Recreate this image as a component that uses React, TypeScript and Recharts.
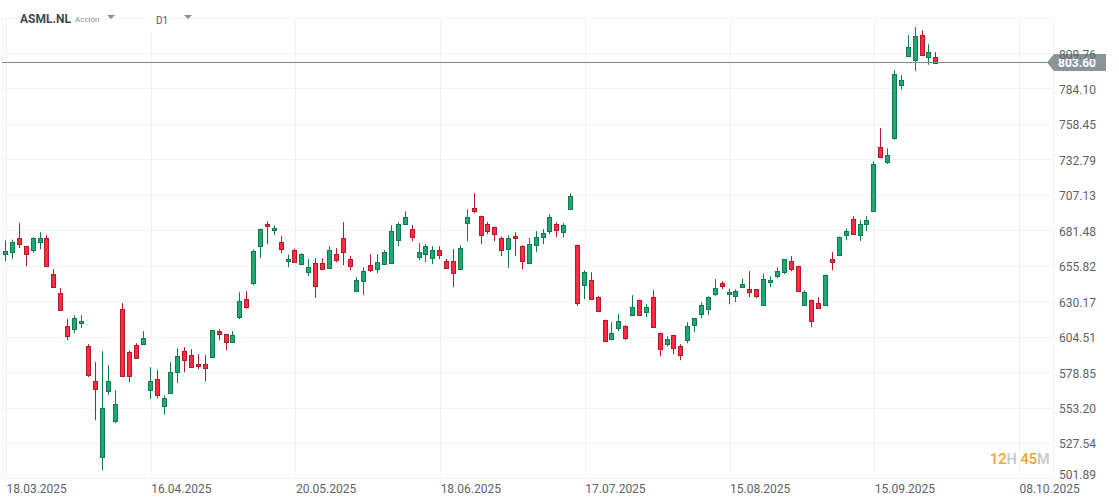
import { Bar, CartesianGrid, ComposedChart, ReferenceLine, XAxis, YAxis } from 'recharts';

const FONT = 'Roboto, sans-serif';
const UP_FILL = '#1fa971';
const UP_EDGE = '#0f7a4f';
const DOWN_FILL = '#ff2b3e';
const DOWN_EDGE = '#b5182f';
const GRID = '#f2f3f4';
const LAST_PRICE = 803.6;
const BOTTOM_PRICE = 501.89;

const dateLabels = ['18.03.2025', '16.04.2025', '20.05.2025', '18.06.2025', '17.07.2025', '15.08.2025', '15.09.2025', '08.10.2025'];
const dateTicks = [0, 21, 42, 63, 84, 105, 126, 147];
const priceTicks = [809.76, 784.1, 758.45, 732.79, 707.13, 681.48, 655.82, 630.17, 604.51, 578.85, 553.2, 527.54, BOTTOM_PRICE];

const opens = [
  664.0, 666.2, 676.6, 670.1, 666.9, 672.7, 676.6, 650.5, 636.1, 612.2,
  610.5, 614.8, 598.4, 572.4, 517.8, 565.6, 543.9, 625.2, 593.4, 599.1,
  599.6, 566.3, 574.5, 554.0, 564.4, 578.6, 594.1, 591.9, 585.4, 584.7,
  589.5, 608.6, 606.4, 600.4, 618.4, 632.4, 643.1, 670.8, 686.7, 682.1,
  673.0, 659.0, 667.9, 656.8, 651.7, 657.8, 657.8, 654.6, 665.0, 675.9,
  660.7, 638.0, 645.2, 657.0, 653.9, 657.5, 658.2, 674.9, 686.7, 682.4,
  662.6, 665.0, 661.1, 667.2, 659.9, 659.9, 653.9, 687.2, 697.6, 692.5,
  686.7, 684.5, 676.6, 668.4, 678.0, 670.1, 658.2, 671.3, 676.3, 680.7,
  686.7, 680.0, 696.6, 671.5, 641.6, 646.2, 633.2, 617.2, 603.2, 611.2,
  612.2, 620.6, 631.7, 622.8, 633.9, 607.8, 599.6, 605.7, 598.4, 601.8,
  612.7, 620.6, 624.2, 635.8, 644.0, 635.1, 634.4, 640.9, 639.0, 639.0,
  627.9, 644.5, 648.1, 651.0, 659.9, 656.3, 627.1, 631.7, 629.5, 627.9,
  660.7, 664.5, 678.5, 690.3, 678.5, 686.7, 695.6, 742.4, 731.3, 748.0,
  787.1, 808.1, 804.4, 823.5, 806.9, 807.6,
];
const closes = [
  666.5, 673.7, 672.0, 664.0, 675.9, 675.9, 656.1, 640.9, 623.5, 604.7,
  618.7, 616.5, 577.2, 566.3, 553.5, 573.1, 556.4, 576.5, 575.7, 589.5,
  604.2, 573.1, 562.7, 560.1, 579.6, 590.5, 587.3, 583.0, 583.7, 581.5,
  609.3, 606.1, 600.4, 605.7, 630.3, 626.4, 666.5, 683.1, 685.0, 683.8,
  667.7, 660.7, 659.0, 664.3, 655.6, 640.9, 653.2, 667.9, 660.4, 665.5,
  655.3, 646.2, 652.7, 653.2, 659.2, 666.4, 681.6, 686.7, 691.8, 676.3,
  666.4, 670.8, 667.2, 663.3, 654.6, 651.0, 669.3, 691.8, 695.2, 678.5,
  681.4, 679.2, 667.7, 676.6, 676.3, 659.0, 672.2, 677.3, 679.5, 691.1,
  682.1, 685.3, 706.3, 629.3, 651.3, 632.2, 622.8, 601.8, 607.8, 616.5,
  603.2, 626.6, 620.6, 626.6, 611.9, 596.0, 603.5, 596.0, 591.7, 612.2,
  618.0, 627.4, 633.2, 640.4, 641.6, 636.8, 638.2, 643.3, 636.5, 633.6,
  646.9, 646.2, 652.0, 660.7, 653.9, 638.0, 636.8, 616.3, 625.7, 649.8,
  658.2, 677.3, 681.6, 679.7, 686.7, 689.6, 729.7, 735.2, 736.6, 794.6,
  790.9, 814.8, 822.1, 808.8, 810.5, 803.6,
];
const highs = [
  674.6, 675.1, 687.0, 670.1, 676.8, 680.4, 678.3, 653.7, 639.9, 617.5,
  620.4, 620.4, 599.4, 586.4, 594.3, 584.2, 566.1, 629.1, 594.8, 600.1,
  608.8, 582.7, 580.6, 562.5, 586.4, 596.5, 597.2, 595.8, 592.1, 591.4,
  609.3, 610.2, 606.4, 608.8, 637.0, 637.7, 667.9, 683.1, 688.4, 685.3,
  677.6, 664.3, 668.6, 665.2, 660.9, 661.6, 661.6, 670.3, 668.9, 687.7,
  663.1, 647.9, 654.9, 664.5, 664.5, 667.4, 685.5, 687.7, 695.6, 685.5,
  672.5, 671.8, 670.3, 670.3, 661.4, 668.1, 671.0, 697.1, 708.7, 692.5,
  687.7, 684.5, 677.3, 678.3, 680.4, 671.0, 676.1, 681.2, 682.6, 693.5,
  687.7, 687.0, 708.7, 671.5, 652.9, 651.5, 634.1, 617.2, 615.3, 621.1,
  613.1, 634.9, 631.7, 628.3, 638.5, 607.8, 605.2, 605.7, 599.4, 615.3,
  618.0, 629.8, 634.1, 646.4, 645.0, 639.7, 639.2, 646.9, 652.2, 639.0,
  650.5, 648.4, 654.9, 660.7, 663.1, 656.3, 638.2, 631.7, 633.4, 649.8,
  666.0, 677.3, 683.1, 692.0, 689.1, 692.0, 731.8, 755.7, 741.2, 797.7,
  794.1, 823.0, 828.8, 826.6, 816.5, 810.7,
];
const lows = [
  659.5, 660.9, 668.9, 655.8, 665.5, 668.1, 656.1, 640.9, 623.5, 602.3,
  607.3, 611.0, 575.5, 544.4, 508.2, 562.5, 542.2, 576.5, 571.9, 589.5,
  598.7, 559.6, 560.3, 548.7, 564.4, 571.2, 579.1, 583.0, 581.3, 572.6,
  589.5, 602.3, 595.0, 600.4, 617.5, 625.0, 642.1, 661.6, 671.8, 678.3,
  665.2, 655.1, 659.0, 656.8, 648.6, 632.9, 653.2, 654.6, 658.7, 656.6,
  652.9, 638.0, 634.8, 651.5, 650.8, 657.5, 658.2, 670.3, 686.7, 673.9,
  660.2, 658.7, 657.3, 660.9, 654.6, 640.6, 652.9, 673.9, 694.2, 671.8,
  679.0, 673.9, 663.1, 654.4, 663.1, 653.7, 657.3, 666.0, 671.8, 679.0,
  676.8, 676.8, 696.6, 627.1, 632.0, 631.2, 622.8, 601.8, 603.2, 608.8,
  602.3, 620.6, 620.6, 618.9, 611.0, 590.7, 597.9, 592.1, 587.8, 600.1,
  608.1, 618.2, 620.4, 634.1, 639.2, 628.3, 629.8, 640.9, 633.4, 632.7,
  627.9, 640.6, 647.2, 650.0, 652.2, 637.0, 627.1, 611.7, 625.7, 627.9,
  652.9, 663.8, 674.6, 679.0, 674.2, 681.2, 695.2, 735.2, 729.9, 747.3,
  783.5, 808.1, 797.0, 808.1, 801.6, 802.3,
];

const candles = opens.map((open, i) => ({
  i,
  open,
  close: closes[i],
  high: highs[i],
  low: lows[i],
}));

const Candle = (props: any) => {
  const { x, y, width, height, payload } = props;
  const { open, close, high, low } = payload;
  const up = close > open;
  const perUnit = height / (high - low);
  const bodyTop = Math.round(y + (high - Math.max(open, close)) * perUnit) + 0.5;
  const bodyHeight = Math.max(Math.round(Math.abs(close - open) * perUnit), 1);
  const mid = Math.floor(x + width / 2 - 0.5) + 0.5;
  const edge = up ? UP_EDGE : DOWN_EDGE;
  return (
    <g>
      <line x1={mid} x2={mid} y1={y} y2={y + height} stroke={edge} strokeWidth={1} />
      <rect
        x={mid - width / 2}
        y={bodyTop}
        width={width}
        height={bodyHeight}
        fill={up ? UP_FILL : DOWN_FILL}
        stroke={edge}
        strokeWidth={1}
      />
    </g>
  );
};

const DateTick = ({ x, y, payload }: any) => (
  <text x={x} y={y + 6} textAnchor="start" fontFamily={FONT} fontSize={12} fill="#5c6268">
    {dateLabels[dateTicks.indexOf(payload.value)]}
  </text>
);

// the lowest price label sits a little above its gridline so it clears the dates
const PriceTick = ({ x, y, payload }: any) => (
  <text x={x - 2} y={payload.value === BOTTOM_PRICE ? y : y + 5} textAnchor="start" fontFamily={FONT} fontSize={12} fill="#5c6268">
    {payload.value.toFixed(2)}
  </text>
);

const PriceTag = ({ viewBox }: any) => {
  const cy = viewBox.y + 0.5;
  const points = `1047,${cy} 1054,${cy - 8.5} 1106,${cy - 8.5} 1106,${cy + 8.5} 1054,${cy + 8.5}`;
  return (
    <g>
      <polygon points={points} fill="#8a9499" />
      <text x={1077} y={cy + 4.5} textAnchor="middle" fontFamily={FONT} fontSize={12} fontWeight={700} fill="#ffffff">
        {LAST_PRICE.toFixed(2)}
      </text>
    </g>
  );
};

const Caret = ({ left, top }: { left: number; top: number }) => (
  <div
    style={{
      position: 'absolute',
      left,
      top,
      width: 0,
      height: 0,
      borderLeft: '4.5px solid transparent',
      borderRight: '4.5px solid transparent',
      borderTop: '4px solid #8b8f94',
    }}
  />
);

const label = (left: number, top: number, size: number, color: string, weight = 400) => ({
  position: 'absolute' as const,
  left,
  top,
  fontFamily: FONT,
  fontSize: size,
  color,
  fontWeight: weight,
  lineHeight: 1,
  whiteSpace: 'nowrap' as const,
});

export default function App() {
  return (
    <div style={{ position: 'absolute', left: 0, top: 0, width: 1119, height: 504, background: '#fff', overflow: 'hidden' }}>
      <ComposedChart width={1119} height={504} data={candles} margin={{ top: 18.2, right: 0, bottom: 0, left: 2 }}>
        <CartesianGrid stroke={GRID} strokeWidth={1} shapeRendering="crispEdges" />
        <XAxis
          dataKey="i"
          type="number"
          domain={[-0.653, 151.865]}
          ticks={dateTicks}
          interval={0}
          height={25.1}
          axisLine={false}
          tickLine={false}
          tick={DateTick}
          allowDataOverflow
        />
        <YAxis
          orientation="right"
          type="number"
          domain={[BOTTOM_PRICE, 835.32]}
          ticks={priceTicks}
          interval={0}
          width={66}
          axisLine={false}
          tickLine={false}
          tick={PriceTick}
          allowDataOverflow
        />
        <Bar dataKey={(d: any) => [d.low, d.high]} barSize={4} shape={Candle} isAnimationActive={false} />
        <ReferenceLine y={LAST_PRICE} stroke="#7b8a90" strokeWidth={1} shapeRendering="crispEdges" label={PriceTag} ifOverflow="visible" />
      </ComposedChart>

      <div style={{ position: 'absolute', left: 145, top: 10, width: 12, height: 22, background: '#fff' }} />
      <div style={label(20, 13, 12, '#3f4954', 700)}>ASML.NL</div>
      <div style={label(75, 16, 8, '#8a8f95')}>Acción</div>
      <Caret left={107} top={15} />
      <div style={label(156, 16, 10, '#5c6268')}>D1</div>
      <Caret left={184} top={15} />
      <div style={label(990, 453, 14.5, '#c3c7cb', 500)}>
        <span style={{ color: '#f7a02e' }}>12</span>H <span style={{ color: '#f7a02e' }}>45</span>M
      </div>
    </div>
  );
}
